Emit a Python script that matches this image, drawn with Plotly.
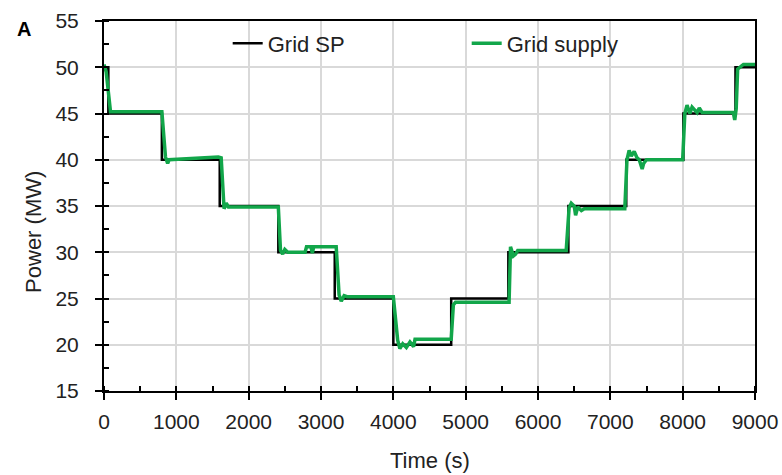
import plotly.graph_objects as go

# grid set point (step profile)
sp_time = [0, 60, 60, 800, 800, 1600, 1600, 2410, 2410, 3190, 3190, 4000, 4000,
           4800, 4800, 5590, 5590, 6420, 6420, 7220, 7220, 8010, 8010, 8730, 8730, 9000]
sp_power = [50, 50, 45, 45, 40, 40, 35, 35, 30, 30, 25, 25, 20,
            20, 25, 25, 30, 30, 35, 35, 40, 40, 45, 45, 50, 50]

# measured grid supply
gs_time = [0, 30, 90, 800, 850, 880, 900, 1200, 1580, 1620, 1660, 1690, 1720, 2410,
           2440, 2470, 2500, 2540, 2780, 2800, 2860, 2880, 2900, 3210, 3250, 3280,
           3320, 3360, 4000, 4060, 4090, 4130, 4180, 4230, 4280, 4300, 4350, 4800,
           4830, 4860, 5600, 5620, 5660, 5690, 5720, 6390, 6430, 6460, 6500, 6520,
           6550, 6600, 6640, 7200, 7230, 7260, 7290, 7330, 7370, 7400, 7440, 7460,
           7500, 8000, 8030, 8060, 8100, 8130, 8200, 8230, 8270, 8700, 8720, 8740,
           8760, 8790, 8840, 9000]
gs_power = [50.3, 49.5, 45.2, 45.2, 40.3, 39.6, 40.0, 40.1, 40.3, 40.2, 34.7, 35.3, 34.9, 34.9,
            30.2, 29.8, 30.3, 30.0, 30.0, 30.6, 30.6, 29.9, 30.6, 30.6, 25.4, 24.7,
            25.3, 25.2, 25.2, 20.5, 19.6, 20.1, 19.7, 20.3, 19.8, 20.6, 20.6, 20.6,
            24.3, 24.6, 24.6, 30.6, 29.6, 29.8, 30.2, 30.2, 34.8, 35.3, 35.0, 34.0,
            34.9, 34.5, 34.7, 34.7, 40.0, 41.0, 40.4, 40.9, 40.2, 40.0, 39.0, 39.6,
            40.0, 40.0, 45.0, 45.9, 45.0, 45.7, 45.1, 45.6, 45.1, 45.1, 44.3, 45.5,
            49.8, 50.0, 50.3, 50.3]

fig = go.Figure()
fig.add_trace(go.Scatter(x=sp_time, y=sp_power, mode="lines", name="Grid SP",
                         line=dict(color="black", width=2.5)))
fig.add_trace(go.Scatter(x=gs_time, y=gs_power, mode="lines", name="Grid supply",
                         line=dict(color="#12A64A", width=3.5)))

fam = "Liberation Sans, Arial, sans-serif"
tickfnt = dict(family=fam, size=21, color="#222222")
titlefnt = dict(family=fam, size=22, color="#222222")

fig.update_layout(
    width=782, height=475,
    margin=dict(l=104, r=27, t=21, b=84),
    plot_bgcolor="white", paper_bgcolor="white",
    font=titlefnt,
    showlegend=True,
    legend=dict(orientation="h", x=0.19, y=0.996, xanchor="left", yanchor="top",
                bgcolor="rgba(0,0,0,0)", entrywidth=194, entrywidthmode="pixels",
                font=titlefnt, itemwidth=30),
    annotations=[
        dict(text="<b>A</b>", x=-0.137, y=0.978, xref="paper", yref="paper",
             xanchor="left", yanchor="middle", showarrow=False,
             font=dict(family=fam, size=20, color="black")),
        dict(text="Time (s)", x=0.5, y=-0.189, xref="paper", yref="paper",
             xanchor="center", yanchor="middle", showarrow=False, font=titlefnt),
        dict(text="Power (MW)", x=-0.1075, y=0.43, xref="paper", yref="paper",
             xanchor="center", yanchor="middle", showarrow=False, textangle=-90,
             font=titlefnt),
    ],
)

fig.update_xaxes(range=[0, 9000], dtick=1000, showgrid=True, gridcolor="#d9d9d9",
                 gridwidth=2, showline=True, linecolor="black", linewidth=2,
                 mirror=True, ticks="outside", ticklen=7, tickwidth=2, tickcolor="black",
                 minor=dict(dtick=500, ticks="inside", ticklen=5, tickwidth=1.5,
                            tickcolor="black", showgrid=False),
                 tickfont=tickfnt, ticklabelstandoff=4, ticklabeloverflow="allow",
                 automargin=False, zeroline=False)
fig.update_yaxes(range=[15, 55], dtick=5, showgrid=True, gridcolor="#d9d9d9",
                 gridwidth=2, showline=True, linecolor="black", linewidth=2,
                 mirror=True, ticks="outside", ticklen=7, tickwidth=2, tickcolor="black",
                 minor=dict(dtick=2.5, ticks="inside", ticklen=5, tickwidth=1.5,
                            tickcolor="black", showgrid=False),
                 tickfont=tickfnt, ticklabelstandoff=12, ticklabeloverflow="allow",
                 automargin=False, zeroline=False)

# drop the default body margin so the figure fills the window exactly
fig.write_html("out.html", config={"displayModeBar": False},
               post_script="document.body.style.margin = '0';")
